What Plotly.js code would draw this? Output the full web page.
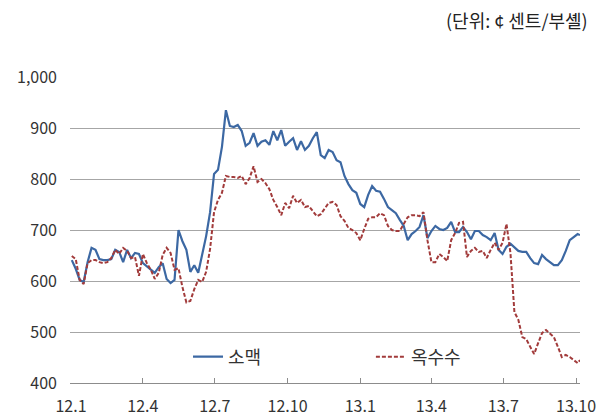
<!DOCTYPE html>
<html>
<head>
<meta charset="utf-8">
<script src="https://cdn.plot.ly/plotly-3.0.1.min.js"></script>
<style>html,body{margin:0;padding:0;background:#fff;}#chart{width:603px;height:417px;}</style>
</head>
<body>
<div id="chart"></div>
<script>
// Dates (every 5 days)
const dates = [
"2012-01-02","2012-01-07","2012-01-12","2012-01-17","2012-01-22","2012-01-27","2012-02-01","2012-02-06","2012-02-11","2012-02-16",
"2012-02-21","2012-02-26","2012-03-02","2012-03-07","2012-03-12","2012-03-17","2012-03-22","2012-03-27","2012-04-01","2012-04-06",
"2012-04-11","2012-04-16","2012-04-21","2012-04-26","2012-05-01","2012-05-06","2012-05-11","2012-05-16","2012-05-21","2012-05-26",
"2012-05-31","2012-06-05","2012-06-10","2012-06-15","2012-06-20","2012-06-25","2012-06-30","2012-07-05","2012-07-10","2012-07-15",
"2012-07-20","2012-07-25","2012-07-30","2012-08-04","2012-08-09","2012-08-14","2012-08-19","2012-08-24","2012-08-29","2012-09-03",
"2012-09-08","2012-09-13","2012-09-18","2012-09-23","2012-09-28","2012-10-03","2012-10-08","2012-10-13","2012-10-18","2012-10-23",
"2012-10-28","2012-11-02","2012-11-07","2012-11-12","2012-11-17","2012-11-22","2012-11-27","2012-12-02","2012-12-07","2012-12-12",
"2012-12-17","2012-12-22","2012-12-27","2013-01-01","2013-01-06","2013-01-11","2013-01-16","2013-01-21","2013-01-26","2013-01-31",
"2013-02-05","2013-02-10","2013-02-15","2013-02-20","2013-02-25","2013-03-02","2013-03-07","2013-03-12","2013-03-17","2013-03-22",
"2013-03-27","2013-04-01","2013-04-06","2013-04-11","2013-04-16","2013-04-21","2013-04-26","2013-05-01","2013-05-06","2013-05-11",
"2013-05-16","2013-05-21","2013-05-26","2013-05-31","2013-06-05","2013-06-10","2013-06-15","2013-06-20","2013-06-25","2013-06-30",
"2013-07-05","2013-07-10","2013-07-15","2013-07-20","2013-07-25","2013-07-30","2013-08-04","2013-08-09","2013-08-14","2013-08-19",
"2013-08-24","2013-08-29","2013-09-03","2013-09-08","2013-09-13","2013-09-18","2013-09-23","2013-09-28","2013-10-03","2013-10-06"
];

// 소맥 (wheat), cents per bushel
const wheat = [
641,624,602,598,637,665,661,643,641,641,
643,661,657,637,661,645,655,653,635,629,
622,616,627,635,604,596,602,700,678,661,
618,631,616,649,688,735,810,818,863,935,
904,902,906,894,865,871,890,865,873,876,
867,894,876,896,865,873,880,857,874,857,
865,880,892,847,841,857,853,837,833,806,
790,778,773,751,745,769,786,777,775,761,
745,739,733,720,708,680,692,698,706,729,
684,698,708,702,700,704,716,696,696,706,
696,682,698,698,690,686,680,694,661,653,
667,673,665,659,657,657,645,635,633,651,
643,637,631,631,641,659,680,686,692,690
];

// 옥수수 (corn), cents per bushel
const corn = [
649,643,602,594,635,641,641,637,635,637,
645,661,653,665,659,645,647,610,653,635,
622,604,616,651,665,655,622,625,588,558,
561,584,602,598,618,663,735,759,773,806,
804,804,802,806,790,802,825,794,800,792,
780,759,745,729,753,743,767,753,759,745,
747,737,727,731,743,753,755,749,727,718,
704,700,694,680,702,722,725,725,733,729,
708,700,698,698,712,725,729,729,727,735,
680,637,637,653,647,639,680,694,714,716,
647,659,665,657,659,645,661,675,661,675,
712,655,539,524,490,486,471,457,478,498,
504,496,490,471,451,455,451,445,439,445
];

const tickVals = ["2012-01-01","2012-04-01","2012-07-01","2012-10-01","2013-01-01","2013-04-01","2013-07-01","2013-10-01"];
const tickText = ["12.1","12.4","12.7","12.10","13.1","13.4","13.7","13.10"];
const yTicks = [400,500,600,700,800,900,1000];
const yTickText = ["400","500","600","700","800","900","1,000"];

const FONT = "'Noto Sans CJK KR','Noto Sans',sans-serif";

const traces = [
  {x: dates, y: wheat, type: 'scatter', mode: 'lines', name: '소맥',
   line: {color: '#3C68A3', width: 2.2}, legend: 'legend'},
  {x: dates, y: corn, type: 'scatter', mode: 'lines', name: '옥수수',
   line: {color: '#A23B3B', width: 2, dash: '4px,2px'}, legend: 'legend2'}
];

const layout = {
  width: 603, height: 417,
  margin: {l: 70, r: 23, t: 77, b: 34},
  paper_bgcolor: '#fff', plot_bgcolor: '#fff',
  font: {family: FONT, color: '#333', size: 16},
  xaxis: {
    type: 'date',
    range: ['2011-12-30 18:00', '2013-10-06'],
    tickmode: 'array', tickvals: tickVals, ticktext: tickText,
    showgrid: false, zeroline: false,
    showline: true, linecolor: '#8c8c8c', linewidth: 1,
    ticks: 'inside', ticklen: 5, tickcolor: '#8c8c8c',
    ticklabelstandoff: 9,
    tickfont: {size: 16, color: '#333', family: FONT}
  },
  yaxis: {
    range: [400, 1000],
    tickmode: 'array', tickvals: yTicks, ticktext: yTickText,
    showgrid: true, gridcolor: '#a6a6a6', gridwidth: 1,
    zeroline: false, showline: false, ticks: '',
    ticklabelstandoff: 12,
    tickfont: {size: 16, color: '#333', family: FONT}
  },
  showlegend: true,
  legend: {x: 0.2314, y: 0.085, xanchor: 'left', yanchor: 'middle',
           bgcolor: 'rgba(0,0,0,0)', font: {size: 18, family: FONT, color: '#333'}},
  legend2: {x: 0.590, y: 0.085, xanchor: 'left', yanchor: 'middle',
           bgcolor: 'rgba(0,0,0,0)', font: {size: 18, family: FONT, color: '#333'}},
  annotations: [{
    text: '(단위: ¢ 센트/부셸)', xref: 'paper', yref: 'paper',
    x: 1.0196, y: 1.186, xanchor: 'right', yanchor: 'middle',
    showarrow: false, font: {size: 18, family: FONT, color: '#222'}
  }]
};

Plotly.newPlot('chart', traces, layout, {displayModeBar: false, staticPlot: true});
</script>
</body>
</html>
